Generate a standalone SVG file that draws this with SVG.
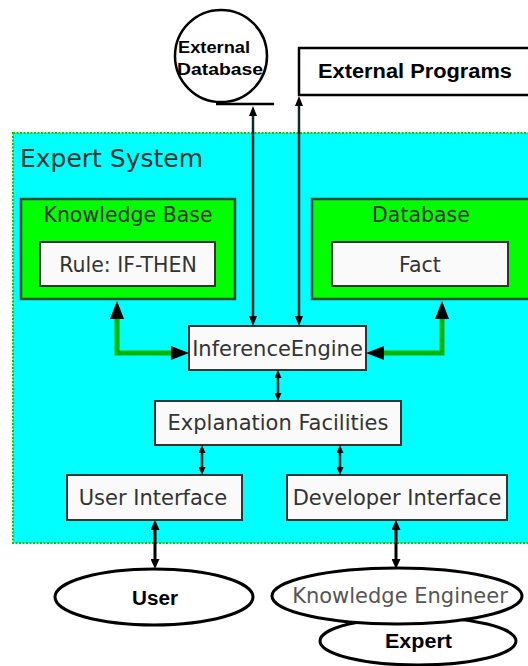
<svg xmlns="http://www.w3.org/2000/svg" width="528" height="666" viewBox="0 0 528 666">
<style>
.t{font-family:"DejaVu Sans",sans-serif;fill:#333;text-anchor:middle}
.b{font-family:"Liberation Sans",Arial,sans-serif;font-weight:bold;fill:#000}
.box{fill:#fafafa;stroke:#333;stroke-width:2}
.grp{fill:#00ff00;stroke:#1a5030;stroke-width:2.5}
.ln{fill:none;stroke:#102828;stroke-width:2.5}
.gl{fill:none;stroke:#00b400;stroke-width:5}
.tk{fill:none;stroke:#000;stroke-width:3}
.el{fill:#fff;stroke:#000;stroke-width:3}
</style>
<defs>
<marker id="a1" viewBox="0 0 10 8" refX="0" refY="4" markerWidth="10" markerHeight="8" markerUnits="userSpaceOnUse" orient="auto-start-reverse"><path d="M0,0 L10,4 L0,8 z" fill="#000"/></marker>
<marker id="a0" viewBox="0 0 8 7" refX="0" refY="3.5" markerWidth="8" markerHeight="7" markerUnits="userSpaceOnUse" orient="auto-start-reverse"><path d="M0,0 L8,3.5 L0,7 z" fill="#000"/></marker>
<marker id="a2" viewBox="0 0 18 14" refX="0" refY="7" markerWidth="18" markerHeight="14" markerUnits="userSpaceOnUse" orient="auto-start-reverse"><path d="M0,0 L18,7 L0,14 z" fill="#000"/></marker>
<marker id="a3" viewBox="0 0 10 9" refX="0" refY="4.5" markerWidth="10" markerHeight="9" markerUnits="userSpaceOnUse" orient="auto-start-reverse"><path d="M0,0 L10,4.5 L0,9 z" fill="#000"/></marker>
</defs>
<rect width="528" height="666" fill="#fff"/>
<g id="expert-system">
<rect x="13" y="133" width="520" height="410" fill="#00ffff" stroke="#00cc00" stroke-width="2" stroke-dasharray="2,1.5"/>
<text x="20" y="167" font-family="DejaVu Sans,sans-serif" font-size="25" fill="#333">Expert System</text>
</g>
<g id="external-database">
<circle cx="221" cy="56" r="46" fill="#fff" stroke="#000" stroke-width="2.5"/>
<line x1="216" y1="104" x2="274" y2="104" stroke="#000" stroke-width="2.5"/>
<text class="b" x="178" y="53" font-size="16" textLength="72" lengthAdjust="spacingAndGlyphs">External</text>
<text class="b" x="177" y="75" font-size="16" textLength="86" lengthAdjust="spacingAndGlyphs">Database</text>
</g>
<g id="external-programs">
<rect x="299" y="48" width="240" height="47" fill="#fff" stroke="#000" stroke-width="2.5"/>
<text class="b" x="318" y="78" font-size="20" textLength="194" lengthAdjust="spacingAndGlyphs">External Programs</text>
</g>
<g id="knowledge-base">
<rect class="grp" x="21" y="199" width="214" height="100"/>
<text class="t" x="128" y="222" font-size="20.5">Knowledge Base</text>
<rect class="box" x="40" y="242" width="175" height="44"/>
<text class="t" x="128" y="272" font-size="20.5">Rule: IF-THEN</text>
</g>
<g id="database">
<rect class="grp" x="312" y="199" width="230" height="100"/>
<text class="t" x="421" y="222" font-size="20.5">Database</text>
<rect class="box" x="332" y="242" width="176" height="44"/>
<text class="t" x="420" y="272" font-size="20.5">Fact</text>
</g>
<g id="inference-engine">
<rect class="box" x="189" y="326" width="177" height="44"/>
<text class="t" x="277.5" y="356" font-size="21">InferenceEngine</text>
</g>
<g id="explanation-facilities">
<rect class="box" x="155" y="401" width="246" height="44"/>
<text class="t" x="278" y="430" font-size="21">Explanation Facilities</text>
</g>
<g id="user-interface">
<rect class="box" x="67" y="475" width="175" height="45"/>
<text class="t" x="153" y="505" font-size="21">User Interface</text>
</g>
<g id="developer-interface">
<rect class="box" x="287" y="475" width="220" height="45"/>
<text class="t" x="397" y="505" font-size="21">Developer Interface</text>
</g>
<g id="expert">
<ellipse class="el" cx="418" cy="641" rx="98" ry="24"/>
<text class="b" x="385" y="648" font-size="20" textLength="67" lengthAdjust="spacingAndGlyphs">Expert</text>
</g>
<g id="user">
<ellipse class="el" cx="154" cy="597" rx="99" ry="28"/>
<text class="b" x="132" y="605" font-size="20" textLength="46" lengthAdjust="spacingAndGlyphs">User</text>
</g>
<g id="knowledge-engineer">
<ellipse class="el" cx="397" cy="596" rx="125" ry="28"/>
<text x="400" y="603" font-family="DejaVu Sans,sans-serif" font-size="21" fill="#555" text-anchor="middle">Knowledge Engineer</text>
</g>
<g id="connectors">
<path class="ln" d="M253,116 L253,316" marker-start="url(#a1)" marker-end="url(#a1)"/>
<path class="ln" d="M299,106 L299,316" marker-start="url(#a1)" marker-end="url(#a1)"/>
<path class="gl" d="M117,319 L117,353 L171,353" marker-start="url(#a2)" marker-end="url(#a2)"/>
<path class="gl" d="M442,319 L442,353 L384,353" marker-start="url(#a2)" marker-end="url(#a2)"/>
<path class="ln" d="M278,378 L278,393" marker-start="url(#a0)" marker-end="url(#a0)"/>
<path class="ln" d="M202,453 L202,467" marker-start="url(#a0)" marker-end="url(#a0)"/>
<path class="ln" d="M340,453 L340,467" marker-start="url(#a0)" marker-end="url(#a0)"/>
<path class="tk" d="M155,530 L155,559" marker-start="url(#a3)" marker-end="url(#a3)"/>
<path class="tk" d="M396,530 L396,559" marker-start="url(#a3)" marker-end="url(#a3)"/>
</g>
</svg>
